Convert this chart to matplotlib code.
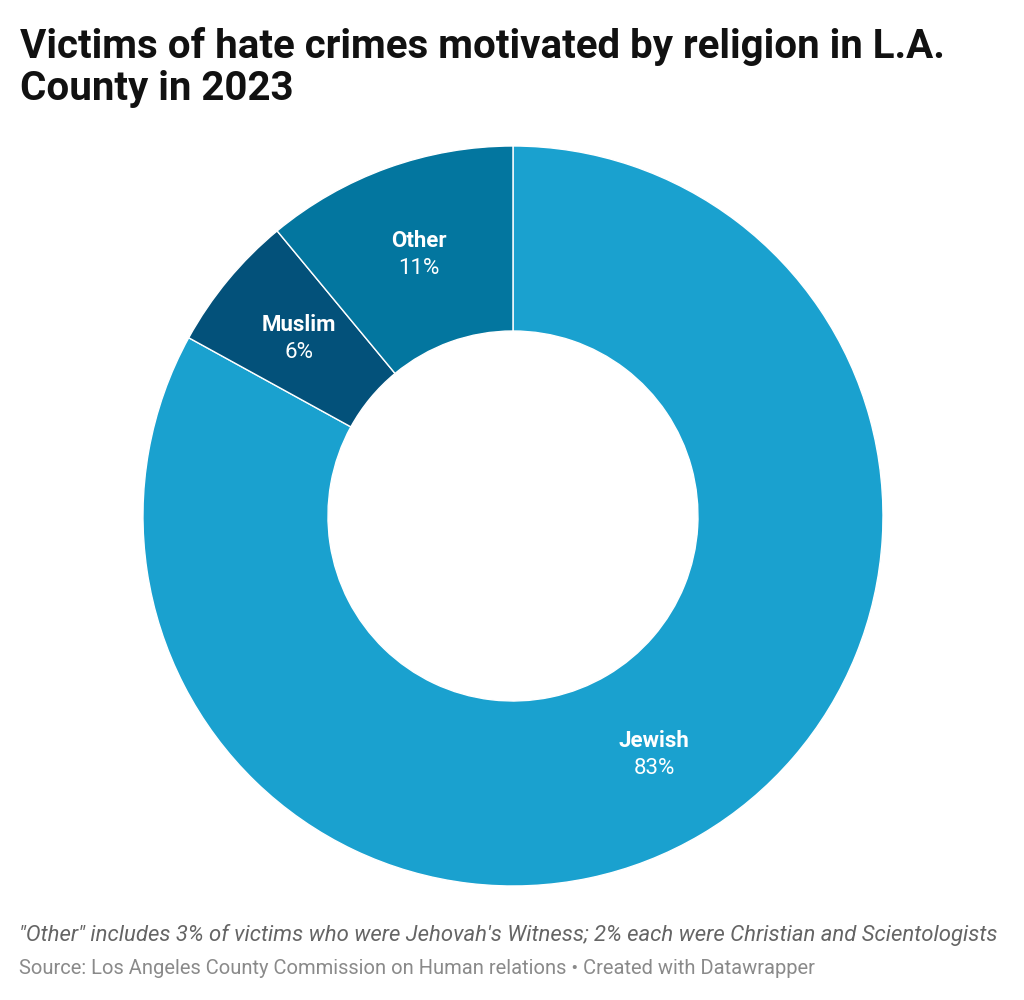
import numpy as np
import matplotlib
matplotlib.use("Agg")
import matplotlib.pyplot as plt

plt.rcParams["font.family"] = ["Roboto", "DejaVu Sans"]

# Données
categories = ["Jewish", "Muslim", "Other"]
shares = [83, 6, 11]
colors = ["#1aa1cf", "#03517a", "#03769f"]

fig = plt.figure(figsize=(10.24, 10.0), dpi=100)
fig.patch.set_facecolor("white")

ax = fig.add_axes([0.1396, 0.114, 0.7227, 0.74])
wedges, _ = ax.pie(
    shares, colors=colors, startangle=90, counterclock=False,
    radius=1.0, wedgeprops=dict(width=0.5, edgecolor="white", linewidth=1.0),
)
ax.set_xlim(-1, 1)
ax.set_ylim(-1, 1)
ax.set_aspect("equal")
ax.axis("off")

# Étiquettes au milieu de chaque part
for w, cat, val in zip(wedges, categories, shares):
    ang = np.deg2rad((w.theta1 + w.theta2) / 2)
    r = 0.75
    x, y = r * np.cos(ang), r * np.sin(ang)
    ax.text(x, y + 0.037, cat, ha="center", va="center", color="white",
            fontsize=16, fontweight="bold")
    ax.text(x, y - 0.037, f"{val}%", ha="center", va="center", color="white",
            fontsize=16)

fig.text(0.02, 0.973, "Victims of hate crimes motivated by religion in L.A.\nCounty in 2023",
         ha="left", va="top", fontsize=29, fontweight="bold", color="#111111",
         linespacing=1.15)
fig.text(0.019, 0.065,
         "\"Other\" includes 3% of victims who were Jehovah's Witness; 2% each were Christian and Scientologists",
         ha="left", va="center", fontsize=15.9, style="italic", color="#656565")
fig.text(0.019, 0.031,
         "Source: Los Angeles County Commission on Human relations \u2022 Created with Datawrapper",
         ha="left", va="center", fontsize=14.5, color="#8a8a8a")

fig.savefig("out.png", dpi=100, facecolor="white")
